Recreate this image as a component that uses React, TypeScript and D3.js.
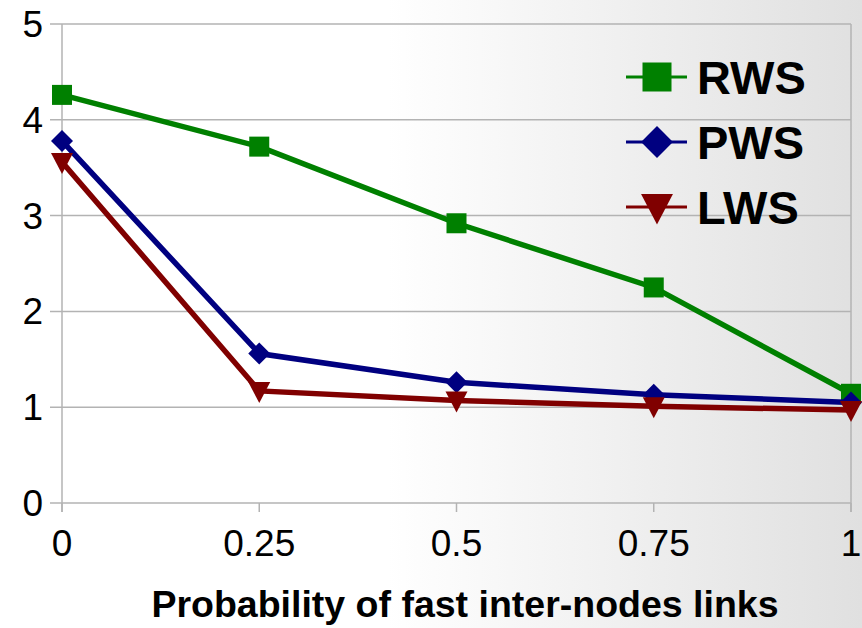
import { useEffect, useRef } from "react";
import * as d3 from "d3";

const probs = [0, 0.25, 0.5, 0.75, 1];
const rws = [4.26, 3.72, 2.92, 2.25, 1.14];
const pws = [3.78, 1.56, 1.26, 1.13, 1.05];
const lws = [3.56, 1.17, 1.07, 1.01, 0.97];
const xTicks = ["0", "0.25", "0.5", "0.75", "1"];
const yTicks = [0, 1, 2, 3, 4, 5];
const seriesNames = ["RWS", "PWS", "LWS"];
const seriesColors = ["#008000", "#000080", "#800000"];

export default function App() {
  const ref = useRef<SVGSVGElement>(null);

  useEffect(() => {
    const svg = d3.select(ref.current);
    svg.selectAll("*").remove();
    const W = 862, H = 628;
    const left = 62, right = 851, top = 24, bottom = 503;

    const defs = svg.append("defs");
    const grad = defs.append("linearGradient").attr("id", "bg").attr("x1", "0").attr("x2", "1").attr("y1", "0").attr("y2", "0");
    grad.append("stop").attr("offset", "0.45").attr("stop-color", "#ffffff");
    grad.append("stop").attr("offset", "1").attr("stop-color", "#e0e0e0");
    svg.append("rect").attr("width", W).attr("height", H).attr("fill", "url(#bg)");

    const x = d3.scaleLinear().domain([0, 1]).range([left, right]);
    const y = d3.scaleLinear().domain([0, 5]).range([bottom, top]);

    const g = svg.append("g");
    // horizontal grid
    g.selectAll("line.h").data(yTicks).join("line")
      .attr("x1", left - 12).attr("x2", right)
      .attr("y1", d => y(d)).attr("y2", d => y(d))
      .attr("stroke", "#b3b3b3").attr("stroke-width", 1.5);
    // vertical axis + right border
    g.append("line").attr("x1", left).attr("x2", left).attr("y1", top).attr("y2", bottom + 9)
      .attr("stroke", "#b3b3b3").attr("stroke-width", 1.5);
    g.append("line").attr("x1", right).attr("x2", right).attr("y1", top).attr("y2", bottom + 9)
      .attr("stroke", "#b3b3b3").attr("stroke-width", 1.5);
    g.selectAll("line.xt").data(probs).join("line")
      .attr("x1", d => x(d)).attr("x2", d => x(d))
      .attr("y1", bottom).attr("y2", bottom + 9)
      .attr("stroke", "#b3b3b3").attr("stroke-width", 1.5);

    const font = "'Liberation Sans', Arial, sans-serif";
    g.selectAll("text.y").data(yTicks).join("text")
      .attr("x", 43).attr("y", d => y(d) + 13)
      .attr("text-anchor", "end").attr("font-family", font).attr("font-size", 37)
      .text(d => d);
    g.selectAll("text.x").data(probs).join("text")
      .attr("x", d => x(d)).attr("y", 556)
      .attr("text-anchor", "middle").attr("font-family", font).attr("font-size", 37)
      .text((d, i) => xTicks[i]);
    svg.append("text").attr("x", 465).attr("y", 617)
      .attr("text-anchor", "middle").attr("font-family", font).attr("font-size", 37.5).attr("font-weight", "bold")
      .text("Probability of fast inter-nodes links");

    const all = [rws, pws, lws];
    const line = d3.line<number>().x((d, i) => x(probs[i])).y(d => y(d));

    const marker = (sel: any, k: number, s: number) => {
      if (k === 0) sel.append("rect").attr("x", -s / 2).attr("y", -s / 2).attr("width", s).attr("height", s);
      else if (k === 1) sel.append("path").attr("d", `M0,${-s * 0.55}L${s * 0.55},0L0,${s * 0.55}L${-s * 0.55},0Z`);
      else sel.append("path").attr("d", `M${-s * 0.55},${-s * 0.45}L${s * 0.55},${-s * 0.45}L0,${s * 0.6}Z`);
    };

    [0, 1, 2].forEach(k => {
      const sg = svg.append("g").attr("fill", seriesColors[k]);
      sg.append("path").datum(all[k]).attr("d", line).attr("fill", "none")
        .attr("stroke", seriesColors[k]).attr("stroke-width", 5.5);
      all[k].forEach((v, i) => {
        const mg = sg.append("g").attr("transform", `translate(${x(probs[i])},${y(v)})`);
        marker(mg, k, 20);
      });
    });

    // legend
    seriesNames.forEach((n, k) => {
      const ly = 77 + k * 65;
      const lg = svg.append("g").attr("fill", seriesColors[k]);
      lg.append("line").attr("x1", 626).attr("x2", 687).attr("y1", ly).attr("y2", ly)
        .attr("stroke", seriesColors[k]).attr("stroke-width", 3);
      const mg = lg.append("g").attr("transform", `translate(657,${ly})`);
      marker(mg, k, 29);
      svg.append("text").attr("x", 697).attr("y", ly + 17)
        .attr("font-family", font).attr("font-size", 47).attr("font-weight", "bold")
        .attr("fill", "#000").text(n);
    });
  }, []);

  return <svg ref={ref} width={862} height={628} style={{ position: "absolute", left: 0, top: 0 }} />;
}
